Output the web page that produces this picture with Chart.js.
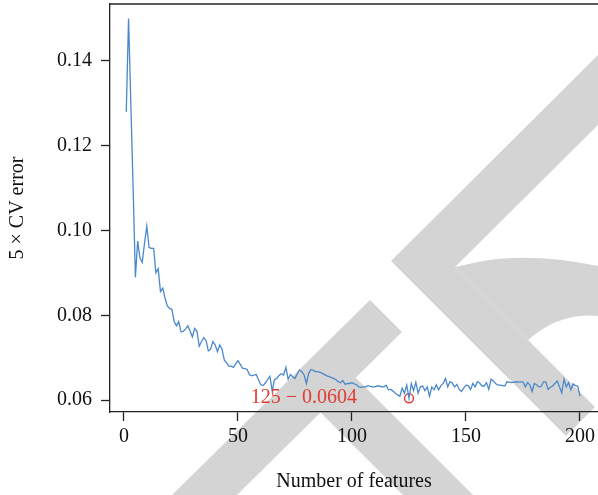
<!DOCTYPE html>
<html>
<head>
<meta charset="utf-8">
<script src="https://cdn.jsdelivr.net/npm/chart.js@4.4.0/dist/chart.umd.min.js"></script>
<style>
  html, body { margin: 0; padding: 0; background: #fff; }
  #wrap { width: 598px; height: 495px; }
</style>
</head>
<body>
<div id="wrap"><canvas id="chart" width="598" height="495"></canvas></div>
<script>
// 5-fold CV error for 1..200 selected features
const cvError = [
  0.1280, 0.1500, 0.1300, 0.1100, 0.0890, 0.0975, 0.0935, 0.0925, 0.0970, 0.1010,
  0.0960, 0.0958, 0.0958, 0.0900, 0.0910, 0.0856, 0.0864, 0.0840, 0.0822, 0.0816,
  0.0814, 0.0785, 0.0775, 0.0785, 0.0761, 0.0762, 0.0768, 0.0775, 0.0762, 0.0749,
  0.0769, 0.0762, 0.0727, 0.0738, 0.0747, 0.0740, 0.0716, 0.0720, 0.0738, 0.0730,
  0.0714, 0.0730, 0.0720, 0.0694, 0.0688, 0.0680, 0.0680, 0.0677, 0.0685, 0.0693,
  0.0684, 0.0675, 0.0674, 0.0672, 0.0660, 0.0657, 0.0659, 0.0660, 0.0648, 0.0636,
  0.0634, 0.0640, 0.0649, 0.0656, 0.0621, 0.0648, 0.0651, 0.0658, 0.0662, 0.0659,
  0.0677, 0.0649, 0.0660, 0.0655, 0.0651, 0.0662, 0.0671, 0.0667, 0.0659, 0.0639,
  0.0663, 0.0672, 0.0670, 0.0667, 0.0667, 0.0665, 0.0663, 0.0660, 0.0657, 0.0655,
  0.0653, 0.0651, 0.0648, 0.0643, 0.0641, 0.0646, 0.0637, 0.0639, 0.0639, 0.0641,
  0.0638, 0.0636, 0.0631, 0.0630, 0.0631, 0.0631, 0.0634, 0.0632, 0.0631, 0.0631,
  0.0633, 0.0633, 0.0631, 0.0631, 0.0635, 0.0624, 0.0625, 0.0621, 0.0616, 0.0612,
  0.0609, 0.0628, 0.0616, 0.0635, 0.0604, 0.0639, 0.0622, 0.0642, 0.0616, 0.0631,
  0.0633, 0.0622, 0.0631, 0.0609, 0.0631, 0.0624, 0.0636, 0.0624, 0.0634, 0.0639,
  0.0651, 0.0631, 0.0643, 0.0640, 0.0631, 0.0637, 0.0625, 0.0620, 0.0628, 0.0635,
  0.0634, 0.0625, 0.0639, 0.0631, 0.0643, 0.0640, 0.0633, 0.0633, 0.0641, 0.0625,
  0.0649, 0.0645, 0.0639, 0.0635, 0.0635, 0.0634, 0.0633, 0.0643, 0.0642, 0.0641,
  0.0642, 0.0643, 0.0642, 0.0643, 0.0643, 0.0631, 0.0641, 0.0636, 0.0620, 0.0639,
  0.0636, 0.0631, 0.0632, 0.0643, 0.0643, 0.0625, 0.0630, 0.0633, 0.0639, 0.0645,
  0.0631, 0.0617, 0.0649, 0.0631, 0.0641, 0.0624, 0.0638, 0.0634, 0.0633, 0.0609
];
const features = cvError.map((_, i) => i + 1);

const xTicks = [0, 50, 100, 150, 200];
const yTicks = [0.06, 0.08, 0.10, 0.12, 0.14];

// best point (minimum error)
const bestFeature = 125;
const bestError = 0.0604;
const bestLabel = "125 \u2212 0.0604";

const serif = "'Liberation Serif', 'DejaVu Serif', serif";
const red = "#e23b33";

// light grey watermark strokes behind the figure (page decoration, canvas pixels)
const watermark = {
  id: "watermark",
  beforeDraw(chart) {
    const ctx = chart.ctx;
    const shapes = [
      [[172, 495], [370, 300], [402, 332], [237, 495]],
      [[320, 412], [355, 377], [473, 495], [403, 495]],
      [[598, 55], [391, 261], [566, 436], [595, 407], [455, 267], [598, 125]],
    ];
    ctx.save();
    ctx.fillStyle = "#d4d4d4";
    shapes.forEach((pts) => {
      ctx.beginPath();
      pts.forEach(([x, y], i) => (i ? ctx.lineTo(x, y) : ctx.moveTo(x, y)));
      ctx.closePath();
      ctx.fill();
    });
    // rounded bowl on the right
    ctx.beginPath();
    ctx.moveTo(455, 267);
    ctx.lineTo(528, 340);
    ctx.quadraticCurveTo(560, 312, 598, 316);
    ctx.lineTo(598, 266);
    ctx.quadraticCurveTo(530, 252, 478, 262);
    ctx.closePath();
    ctx.fill();
    ctx.restore();
  },
};

// top border of the box (left/bottom come from the axes)
const frameTop = {
  id: "frameTop",
  afterDraw(chart) {
    const { ctx, chartArea } = chart;
    ctx.save();
    ctx.strokeStyle = "#222";
    ctx.lineWidth = 1.3;
    ctx.beginPath();
    ctx.moveTo(chartArea.left, chartArea.top);
    ctx.lineTo(chartArea.right, chartArea.top);
    ctx.stroke();
    ctx.restore();
  },
};

// red label next to the minimum
const bestText = {
  id: "bestText",
  afterDatasetsDraw(chart) {
    const { ctx, scales } = chart;
    const px = scales.x.getPixelForValue(bestFeature);
    const py = scales.y.getPixelForValue(bestError);
    ctx.save();
    ctx.fillStyle = red;
    ctx.font = "20px " + serif;
    ctx.textAlign = "right";
    ctx.textBaseline = "middle";
    ctx.fillText(bestLabel, px - 52, py - 1);
    ctx.restore();
  },
};

const ctx = document.getElementById("chart").getContext("2d");
new Chart(ctx, {
  type: "line",
  data: {
    datasets: [
      {
        data: features.map((f, i) => ({ x: f, y: cvError[i] })),
        borderColor: "#4a88cc",
        borderWidth: 1.3,
        pointRadius: 0,
        tension: 0,
        fill: false,
      },
      {
        data: [{ x: bestFeature, y: bestError }],
        showLine: false,
        pointRadius: 4.5,
        pointBorderWidth: 1.4,
        pointBorderColor: red,
        pointBackgroundColor: "rgba(0,0,0,0)",
      },
    ],
  },
  options: {
    responsive: false,
    animation: false,
    layout: { autoPadding: false, padding: { top: 4, right: 0, left: 0, bottom: 0 } },
    plugins: { legend: { display: false }, tooltip: { enabled: false } },
    scales: {
      x: {
        type: "linear",
        min: -6.14,
        max: 207.9,
        afterBuildTicks: (s) => { s.ticks = xTicks.map((v) => ({ value: v })); },
        afterFit: (s) => { s.height = 83; s.paddingLeft = 0; s.paddingRight = 0; },
        border: { display: true, color: "#222", width: 1.3 },
        grid: { drawOnChartArea: false, drawTicks: true, tickLength: 9, color: "#222", tickWidth: 1.3 },
        ticks: {
          color: "#111",
          padding: 4,
          maxRotation: 0,
          font: { family: serif, size: 20 },
          callback: (v) => String(v),
        },
        title: {
          display: true,
          text: "Number of features",
          color: "#111",
          font: { family: serif, size: 20 },
          padding: { top: 0, bottom: 1 },
        },
      },
      y: {
        min: 0.05717,
        max: 0.15345,
        afterBuildTicks: (s) => { s.ticks = yTicks.map((v) => ({ value: v })); },
        afterFit: (s) => { s.width = 110; s.paddingTop = 0; s.paddingBottom = 0; },
        border: { display: true, color: "#222", width: 1.3 },
        grid: { drawOnChartArea: false, drawTicks: true, tickLength: 9, color: "#222", tickWidth: 1.3 },
        ticks: {
          color: "#111",
          padding: 9,
          font: { family: serif, size: 20 },
          callback: (v) => v.toFixed(2),
        },
        title: {
          display: true,
          text: "5 \u00d7 CV error",
          color: "#111",
          font: { family: serif, size: 20 },
          padding: { top: 6, bottom: 0 },
        },
      },
    },
  },
  plugins: [watermark, frameTop, bestText],
});
</script>
</body>
</html>
